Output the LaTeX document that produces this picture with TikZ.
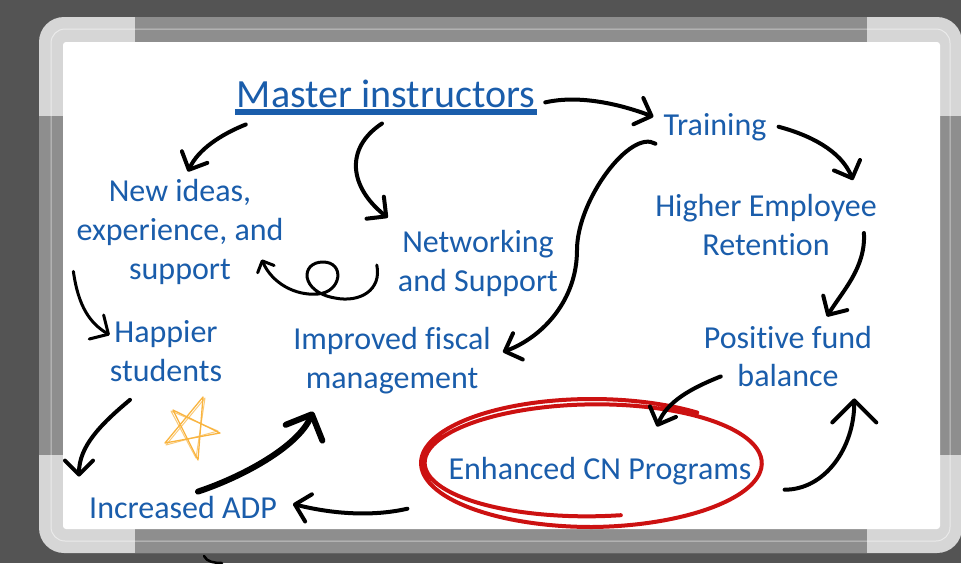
\documentclass[tikz,border=0pt]{standalone}
\usepackage{fontspec}
\setmainfont{Carlito}[Ligatures=NoCommon]
\usetikzlibrary{arrows.meta}

\begin{document}
\begin{tikzpicture}[x=1pt, y=-1pt,
  idea/.style={text=inkblue, font=\fontsize{32}{39}\selectfont, align=center, inner sep=2pt},
  headline/.style={text=inkblue, font=\fontsize{40}{48}\selectfont, inner sep=2pt},
  flow/.style={line width=4pt, line cap=round, line join=round,
    -{Straight Barb[length=14pt, width=28pt, round]}}]
  % Define colors
  \definecolor{backdrop}{HTML}{545454}
  \definecolor{framelight}{HTML}{D6D6D6}
  \definecolor{framedark}{HTML}{8E8E8E}
  \definecolor{inkblue}{HTML}{1A5DAB}
  \definecolor{marker}{HTML}{CC1111}
  \definecolor{starink}{HTML}{F9B43F}

  \useasboundingbox (0,0) rectangle (961,563);

  % Whiteboard frame
  \fill[backdrop] (0,0) rectangle (961,563);
  \fill[framelight, rounded corners=25] (39,17) rectangle (962,553);
  \fill[framedark] (135,17) rectangle (867,42);
  \fill[framedark] (135,529) rectangle (867,553);
  \fill[framedark] (39,116) rectangle (63,455);
  \fill[framedark] (940,116) rectangle (962,455);
  \draw[white, opacity=0.5, line width=1pt, rounded corners=14] (51,29) rectangle (950,541);
  \fill[white, rounded corners=3] (63,42) rectangle (940,529);
  \draw[line width=2.5pt, line cap=round] (204,556) .. controls (207,562) and (214,563) .. (222,563);

  % Labels
  \node[headline, anchor=base] (master) at (386,107) {Master instructors};
  \draw[inkblue, line width=6pt] ([yshift=-3pt]master.south west) -- ([yshift=-3pt]master.south east);
  \node[idea, anchor=base] (training) at (715,135) {Training};
  \node[idea] (newideas) at (180,231.5) {New ideas,\\experience, and\\support};
  \node[idea] (retention) at (766,225) {Higher Employee\\Retention};
  \node[idea] (networking) at (478,263) {Networking\\and Support};
  \node[idea] (happier) at (166,351) {Happier\\students};
  \node[idea] (fiscal) at (392,361) {Improved fiscal\\management};
  \node[idea] (fund) at (788,356.5) {Positive fund\\balance};
  \node[idea, anchor=base] (enhanced) at (600,479) {Enhanced CN Programs};
  \node[idea, anchor=base] (adp) at (183,518) {Increased ADP};

  % Red circle round the programs
  \draw[marker, line width=4pt, line cap=round] plot[domain=80:668, samples=160, smooth]
    ({592+(166+5*min(1,(\x-80)/370))*cos(\x)}, {463+(53+11*min(1,(\x-80)/370))*sin(\x)});

  % Star
  \draw[starink, line width=1.3pt, line join=round] (173,410) -- (220,433) -- (165,443) -- (203,397) -- (198,460) -- cycle;
  \draw[starink, opacity=0.7, line width=1pt, line join=round] (171,411) -- (218,431) -- (166,445) -- (205,398) -- (196,458) -- cycle;

  % Arrows from the master instructors
  \draw[flow] ([shift={(8,9)}]master.east) .. controls +(35,-8) and +(-32,-12) .. ([shift={(-8,-10)}]training.west);
  \draw[flow] ([shift={(11,15)}]master.south west) .. controls +(-25,10) and +(10,-22) .. ([shift={(8,-5)}]newideas.north);
  \draw[flow] ([shift={(-4,14)}]master.south) .. controls +(-38,25) and +(-38,-30) .. ([shift={(-8,-10)}]networking.north west);

  % Right hand cycle
  \draw[flow] ([shift={(10,0)}]training.east) .. controls +(30,8) and +(-12,-30) .. ([shift={(-26,-12)}]retention.north east);
  \draw[flow] ([shift={(-15,8)}]retention.east) .. controls +(2,35) and +(15,-25) .. ([shift={(39,-7)}]fund.north);
  \draw[flow] ([shift={(19,-13)}]fund.south west) .. controls +(-30,12) and +(10,-25) .. ([shift={(57,-28)}]enhanced.north);
  \draw[flow, -{Straight Barb[length=22pt, width=44pt, round]}] ([shift={(31,3)}]enhanced.south east) .. controls +(40,0) and +(0,50) .. ([shift={(-20,9)}]fund.south east);
  \draw[flow] ([shift={(-6,1)}]training.south west) .. controls +(-25,-15) and +(0,-50) .. (577,250)
    .. controls +(0,50) and +(40,-15) .. ([shift={(10,-9)}]fiscal.east);

  % Left hand cycle
  \draw[flow] ([shift={(-39,22)}]enhanced.south west) .. controls +(-35,8) and +(40,10) .. ([shift={(14,-3)}]adp.east);
  \draw[flow, line width=6pt, -{Straight Barb[length=20pt, width=40pt, round]}] ([shift={(15,-2)}]adp.north) .. controls +(45,-15) and +(-15,35) .. ([shift={(22,15)}]fiscal.south west);
  \draw[flow] ([shift={(-36,16)}]happier.south) .. controls +(-30,25) and +(0,-30) .. ([shift={(-8,-17)}]adp.north west);
  \draw[flow, line width=3pt] ([shift={(-1,-15)}]newideas.south west) .. controls +(5,35) and +(-20,-12) .. ([shift={(2,-16)}]happier.west);
  \draw[flow, line width=3pt, -{Straight Barb[length=9pt, width=18pt, round]}] ([shift={(-19,2)}]networking.west)
    .. controls (382,290) and (360,303) .. (335,298)
    .. controls (300,292) and (300,262) .. (323,262)
    .. controls (345,262) and (342,292) .. (318,294)
    .. controls (295,296) and (272,283) .. ([shift={(-24,28)}]newideas.east);
\end{tikzpicture}
\end{document}
